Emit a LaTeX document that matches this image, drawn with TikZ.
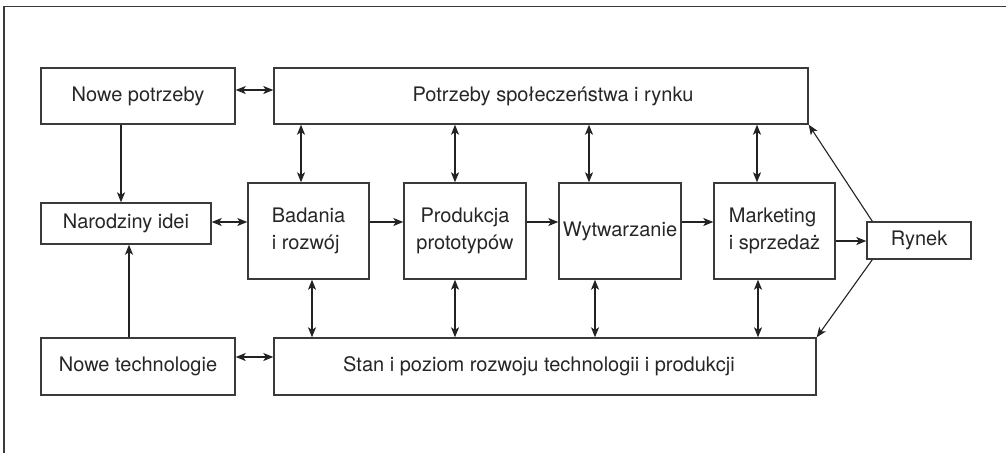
\documentclass[tikz,border=0pt]{standalone}
\usepackage{fontspec}
\setmainfont{TeX Gyre Heros}
\usetikzlibrary{arrows.meta}
\definecolor{boxline}{HTML}{3A3A3A}
\definecolor{arrline}{HTML}{222222}
\begin{document}
\begin{tikzpicture}[x=1pt,y=-1pt,
  box/.style={draw=boxline, line width=1.4pt, inner sep=0pt, fill=white,
    font=\fontsize{20}{27}\selectfont, text=black!85},
  conn/.style={draw=arrline, line width=1.1pt, -{Stealth[length=10pt,width=8pt,inset=2.5pt]}},
  dbl/.style={draw=arrline, line width=1.1pt, {Stealth[length=10pt,width=8pt,inset=2.5pt]}-{Stealth[length=10pt,width=8pt,inset=2.5pt]}},
  frameline/.style={draw=boxline, line width=1.4pt}]
\useasboundingbox (0,0) rectangle (1006,453);
\draw[frameline] (4,453) -- (4,6.5) -- (1006,6.5);

\node[box, minimum width=194, minimum height=56] (np) at (138,96) {Nowe potrzeby};
\node[box, minimum width=534, minimum height=56] (ps) at (541,96) {\hspace*{24pt}Potrzeby społeczeństwa i rynku};
\node[box, minimum width=170, minimum height=41] (ni) at (126,223.5) {Narodziny idei};
\node[box, minimum width=121, minimum height=96, align=left] (br) at (308.5,231) {Badania\\i rozwój};
\node[box, minimum width=122, minimum height=96, align=center] (pp) at (465,231) {Produkcja\\prototypów};
\node[box, minimum width=122, minimum height=96] (wy) at (620,231) {Wytwarzanie};
\node[box, minimum width=121, minimum height=96, align=left] (ms) at (774.5,231) {Marketing\\i sprzedaż};
\node[box, minimum width=104, minimum height=37] (ry) at (919,240.5) {Rynek};
\node[box, minimum width=194, minimum height=57] (nt) at (138,366.5) {Nowe technologie};
\node[box, minimum width=542, minimum height=57] (st) at (545,366.5) {Stan i poziom rozwoju technologii i produkcji\hspace*{12pt}};

% helper coordinates
\coordinate (hy1) at (0,90);
\coordinate (hy2) at (0,357);
\coordinate (hy3) at (0,222);
\coordinate (hy4) at (0,241);
\coordinate (vx1) at (121,0);
\coordinate (vx2) at (129,0);
\coordinate (ta) at (301,0);
\coordinate (tb) at (455,0);
\coordinate (tc) at (589,0);
\coordinate (td) at (757,0);
\coordinate (ba) at (312,0);
\coordinate (bb) at (455,0);
\coordinate (bc) at (595,0);
\coordinate (bd) at (758,0);

\draw[dbl] (np.east |- hy1) -- (ps.west |- hy1);
\draw[dbl] (nt.east |- hy2) -- (st.west |- hy2);
\draw[dbl] (ni.east |- hy3) -- (br.west |- hy3);
\draw[conn] (np.south -| vx1) -- (ni.north -| vx1);
\draw[conn] (nt.north -| vx2) -- (ni.south -| vx2);
\draw[conn] (br.east |- hy3) -- (pp.west |- hy3);
\draw[conn] (pp.east |- hy3) -- (wy.west |- hy3);
\draw[conn] (wy.east |- hy3) -- (ms.west |- hy3);
\draw[conn] (ms.east |- hy4) -- (ry.west |- hy4);

\draw[dbl] (ps.south -| ta) -- (br.north -| ta);
\draw[dbl] (ps.south -| tb) -- (pp.north -| tb);
\draw[dbl] (ps.south -| tc) -- (wy.north -| tc);
\draw[dbl] (ps.south -| td) -- (ms.north -| td);
\draw[dbl] (br.south -| ba) -- (st.north -| ba);
\draw[dbl] (pp.south -| bb) -- (st.north -| bb);
\draw[dbl] (wy.south -| bc) -- (st.north -| bc);
\draw[dbl] (ms.south -| bd) -- (st.north -| bd);

\draw[conn] ([xshift=6pt]ry.north west) -- (ps.south east);
\draw[conn] ([xshift=6pt]ry.south west) -- (st.north east);
\end{tikzpicture}
\end{document}
